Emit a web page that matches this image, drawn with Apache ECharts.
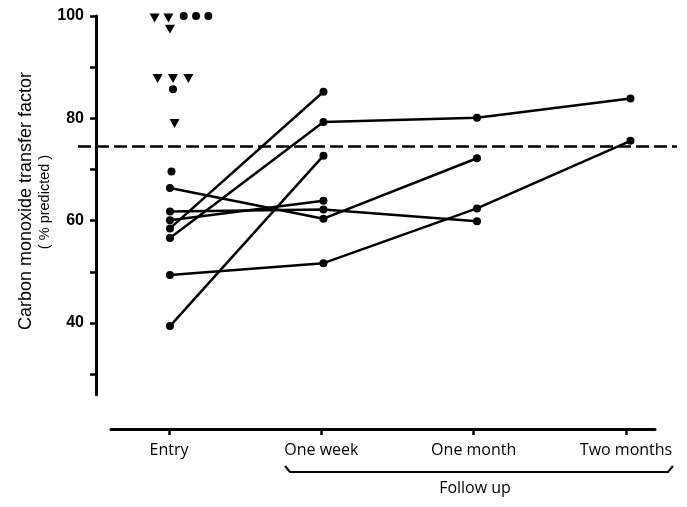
<!DOCTYPE html>
<html><head><meta charset="utf-8">
<script src="https://cdn.jsdelivr.net/npm/echarts@6/dist/echarts.min.js"></script>
<style>html,body{margin:0;padding:0;background:#fff}#c{width:687px;height:507px}</style>
</head><body><div id="c"></div>
<script>
// categories (x positions 0..3)
const categories = ['Entry', 'One week', 'One month', 'Two months'];
// connected patients (value per category, null = not measured)
const patientA = [66.4, 60.4, 72.2, null];
const patientB = [58.5, 85.2, null, null];
const patientC = [56.6, 79.3, 80.1, 83.9];
const patientD = [39.4, 72.7, null, null];
const patientE = [49.4, 51.7, 62.4, 75.6];
const patientF = [61.8, 62.2, 59.9, null];
const patientG = [60.1, 63.9, null, null];
// unconnected entry values (dots and inverted triangles) with small horizontal offsets
const entryDotValues = [100, 100, 100, 85.7, 69.6];
const entryDotOffsets = [0.09, 0.17, 0.25, 0.02, 0.01];
const entryTriangleValues = [99.6, 99.6, 97.4, 87.8, 87.8, 87.8, 79.0];
const entryTriangleOffsets = [-0.1, -0.01, 0.0, -0.08, 0.02, 0.12, 0.03];
// reference line
const normalLimit = 74.6;
// y axis ticks
const yTickValues = [30, 40, 50, 60, 70, 80, 90, 100];
const yLabelValues = [40, 60, 80, 100];
const yTitle = ['Carbon monoxide transfer factor', '( % predicted )'];
const groupLabel = 'Follow up';

const patients = [patientA, patientB, patientC, patientD, patientE, patientF, patientG];

const chart = echarts.init(document.getElementById('c'), null, {renderer: 'canvas'});

const lineSeries = patients.map(arr => ({
  type: 'line',
  xAxisIndex: 0, yAxisIndex: 0,
  data: arr.map((v, i) => v == null ? null : [i, v]).filter(d => d),
  symbol: 'circle', symbolSize: 8,
  itemStyle: {color: '#000', opacity: 1},
  lineStyle: {color: '#000', width: 2.5},
  silent: true, animation: false, z: 3
}));

const option = {
  animation: false,
  backgroundColor: '#fff',
  grid: [
    {left: 78, top: 16, width: 599, height: 378.7},
    {left: 111, top: 428, width: 544, height: 1}
  ],
  xAxis: [
    {type: 'value', gridIndex: 0, min: -0.599, max: 3.303, show: false},
    {
      type: 'value', gridIndex: 1, min: -0.3807, max: 3.19,
      axisLine: {show: true, lineStyle: {color: '#000', width: 3}},
      axisTick: {show: true, inside: false, length: 6, lineStyle: {color: '#000', width: 2.5},
                 customValues: [0, 1, 2, 3]},
      axisLabel: {customValues: [0, 1, 2, 3], formatter: v => categories[Math.round(v)] || '',
                  color: '#000', fontFamily: 'Open Sans', fontSize: 16, margin: 13},
      splitLine: {show: false}
    }
  ],
  yAxis: [
    {
      type: 'value', gridIndex: 0, min: 26, max: 100, offset: -18,
      axisLine: {show: true, onZero: false, lineStyle: {color: '#000', width: 3}},
      axisTick: {show: true, length: 6, lineStyle: {color: '#000', width: 2.5}, customValues: yTickValues},
      axisLabel: {customValues: yLabelValues, color: '#000', fontFamily: 'Liberation Sans',
                  fontWeight: 'bold', fontSize: 16, margin: 12},
      splitLine: {show: false}
    },
    {type: 'value', gridIndex: 1, show: false, min: 0, max: 1}
  ],
  series: [
    ...lineSeries,
    {
      type: 'scatter', xAxisIndex: 0, yAxisIndex: 0,
      data: entryDotValues.map((v, i) => [entryDotOffsets[i], v]),
      symbol: 'circle', symbolSize: 8, itemStyle: {color: '#000', opacity: 1}, silent: true, z: 4
    },
    {
      type: 'scatter', xAxisIndex: 0, yAxisIndex: 0,
      data: entryTriangleValues.map((v, i) => [entryTriangleOffsets[i], v]),
      symbol: 'triangle', symbolRotate: 180, symbolSize: [10, 9],
      itemStyle: {color: '#000', opacity: 1}, silent: true, z: 4,
      markLine: {
        silent: true, symbol: 'none', label: {show: false},
        lineStyle: {color: '#000', width: 2.5, type: [13, 5], opacity: 1},
        data: [[{coord: [-0.599, normalLimit]}, {coord: [3.303, normalLimit]}]]
      }
    }
  ],
  graphic: [
    {
      type: 'text', silent: true, x: 26, y: 201, rotation: Math.PI / 2,
      style: {text: yTitle[0], fill: '#000', font: '18px "Liberation Sans"', align: 'center', verticalAlign: 'middle'}
    },
    {
      type: 'text', silent: true, x: 44.5, y: 202, rotation: Math.PI / 2,
      style: {text: yTitle[1], fill: '#000', font: '14.5px "Liberation Sans"', align: 'center', verticalAlign: 'middle'}
    },
    {
      type: 'polyline', silent: true,
      shape: {points: [[285, 466], [290, 472], [668, 472], [673, 466]]},
      style: {stroke: '#000', lineWidth: 2, fill: null}
    },
    {
      type: 'text', silent: true, x: 475, y: 488,
      style: {text: groupLabel, fill: '#000', font: '16px "Open Sans"', align: 'center', verticalAlign: 'middle'}
    }
  ]
};
chart.setOption(option);
</script>
</body></html>
